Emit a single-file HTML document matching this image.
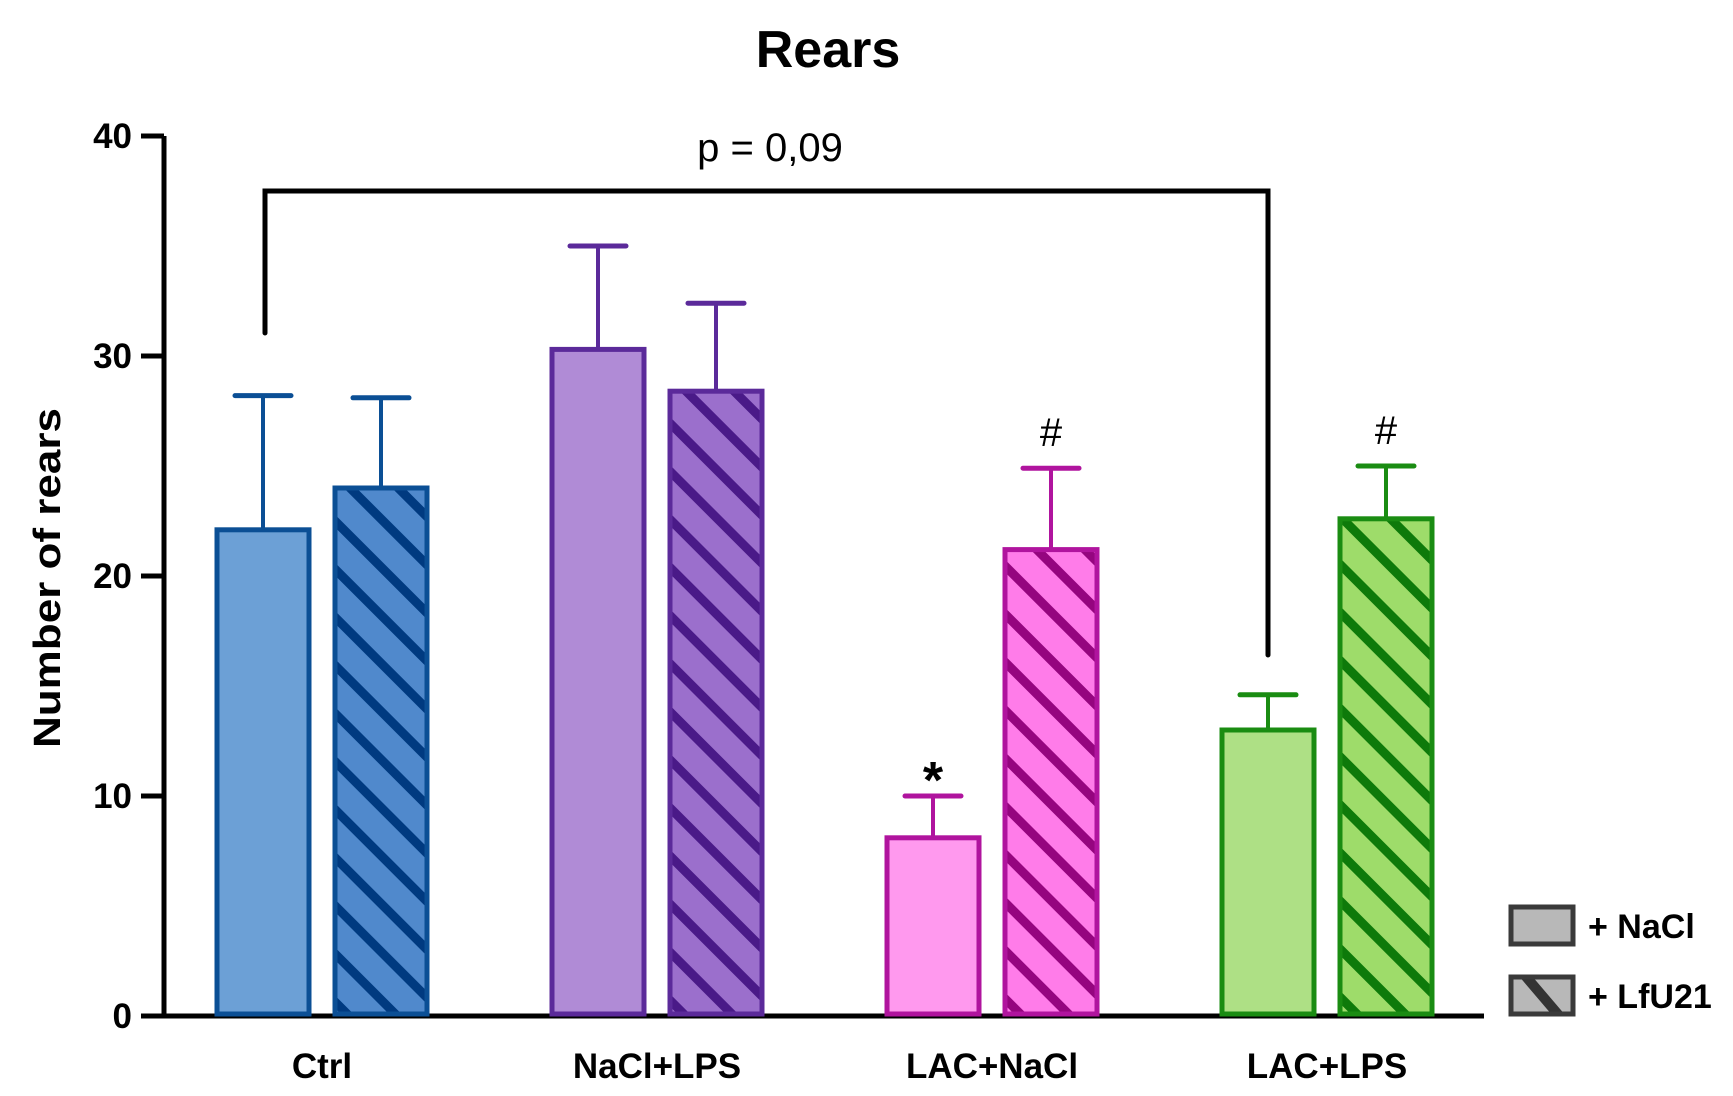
<!DOCTYPE html>
<html><head><meta charset="utf-8"><style>
html,body{margin:0;padding:0;background:#fff;}
svg{display:block;font-family:"Liberation Sans",sans-serif;}
</style></head><body>
<svg id="chart" width="1733" height="1096" viewBox="0 0 1733 1096">
<defs>
<pattern id="h0" patternUnits="userSpaceOnUse" width="34" height="34" patternTransform="rotate(-45)"><rect width="34" height="34" fill="#5089cc"/><rect x="0" y="0" width="9" height="34" fill="#003a80"/></pattern>
<pattern id="h1" patternUnits="userSpaceOnUse" width="34" height="34" patternTransform="rotate(-45)"><rect width="34" height="34" fill="#9b6fcc"/><rect x="0" y="0" width="9" height="34" fill="#4a1a88"/></pattern>
<pattern id="h2" patternUnits="userSpaceOnUse" width="34" height="34" patternTransform="rotate(-45)"><rect width="34" height="34" fill="#ff7ce9"/><rect x="0" y="0" width="9" height="34" fill="#95057f"/></pattern>
<pattern id="h3" patternUnits="userSpaceOnUse" width="34" height="34" patternTransform="rotate(-45)"><rect width="34" height="34" fill="#9edc6a"/><rect x="0" y="0" width="9" height="34" fill="#0e7a0a"/></pattern>
<clipPath id="lc"><rect x="1511" y="977" width="62" height="37"/></clipPath>
</defs>
<text x="828" y="67" text-anchor="middle" font-size="52" font-weight="bold">Rears</text>
<text transform="translate(60,578) rotate(-90)" text-anchor="middle" font-size="38" font-weight="bold" textLength="340" lengthAdjust="spacingAndGlyphs">Number of rears</text>
<g id="axes"></g>
<g id="bars"></g>
<path d="M265,333 V191 H1268 V655" fill="none" stroke="#000" stroke-width="5" stroke-linecap="round"/>
<text x="770" y="161" text-anchor="middle" font-size="40">p = 0,09</text>
<g>
<rect x="1511" y="907" width="62" height="37" fill="#b8b8b8" stroke="#3a3a3a" stroke-width="5"/>
<text x="1588" y="938" font-size="34" font-weight="bold">+ NaCl</text>
<g>
<rect x="1511" y="977" width="62" height="37" fill="#b8b8b8"/>
<line x1="1522" y1="972" x2="1562" y2="1019" stroke="#333" stroke-width="10" clip-path="url(#lc)"/>
<rect x="1511" y="977" width="62" height="37" fill="none" stroke="#3a3a3a" stroke-width="5"/>
</g>
<text x="1588" y="1008" font-size="34" font-weight="bold">+ LfU21</text>
</g>
</svg>
<script>
const categories = ["Ctrl","NaCl+LPS","LAC+NaCl","LAC+LPS"];
const naclMeans = [22.1, 30.3, 8.1, 13.0];
const naclErr = [6.1, 4.7, 1.9, 1.6];
const lfuMeans = [24.0, 28.4, 21.2, 22.6];
const lfuErr = [4.1, 4.0, 3.7, 2.4];
const yTicks = [0,10,20,30,40];
const naclMarks = ["", "", "*", ""];
const lfuMarks = ["", "", "#", "#"];

const NS="http://www.w3.org/2000/svg";
const y0=1016, pxPerUnit=22.0, groupStart=215, groupStep=335, barW=96, gap=22;
const yScale=v=>y0-v*pxPerUnit;
const xGroup=i=>groupStart+i*groupStep;
const strokes=["#0b4f95","#5b2a9a","#b0149e","#1a8c12"];
const solidFill=["#6ca0d6","#b08bd6","#ff99ee","#aee085"];
function mk(tag,attrs,parent){const e=document.createElementNS(NS,tag);for(const k in attrs)e.setAttribute(k,attrs[k]);parent.appendChild(e);return e;}
const axes=document.getElementById('axes'), bars=document.getElementById('bars');
let ax=mk('path',{d:`M164,${yScale(40)} V${y0} H1484`,fill:'none',stroke:'#000','stroke-width':5},axes);


yTicks.forEach(t=>{
  const y=yScale(t);
  let l=mk('line',{x1:141,x2:164,y1:y,y2:y,stroke:'#000','stroke-width':5},axes);
  
  
  let tx=mk('text',{x:132,y:y+12,'text-anchor':'end','font-size':35,'font-weight':'bold'},axes);
  tx.textContent=t;
  
  
});
function drawBar(x,v,e,fill,stroke,mark){
  const top=yScale(v);
  let el=mk('line',{x1:x+barW/2,x2:x+barW/2,y1:top,y2:yScale(v+e),stroke:stroke,'stroke-width':4},bars);
  
  
  let cap=mk('line',{x1:x+barW/2-28,x2:x+barW/2+28,y1:yScale(v+e),y2:yScale(v+e),stroke:stroke,'stroke-width':5,'stroke-linecap':'round'},bars);
  
  
  let r=mk('rect',{x:x+2,y:top,width:barW-4,height:y0-top-2,fill:fill,stroke:stroke,'stroke-width':5},bars);
  
  
  if(mark){
    let m=mk('text',{x:x+barW/2,y:yScale(v+e)-(mark==='*'?-2:22),'text-anchor':'middle','font-size':mark==='*'?52:40,'font-weight':mark==='*'?'bold':'normal'},bars);
    m.textContent=mark;
    
    
  }
}
categories.forEach((c,i)=>{
  const x=xGroup(i);
  drawBar(x,naclMeans[i],naclErr[i],solidFill[i],strokes[i],naclMarks[i]);
  drawBar(x+barW+gap,lfuMeans[i],lfuErr[i],`url(#h${i})`,strokes[i],lfuMarks[i]);
  let t=mk('text',{x:x+barW+gap/2,y:1078,'text-anchor':'middle','font-size':35,'font-weight':'bold'},axes);
  t.textContent=c;
  
  
});
</script>
</body></html>
